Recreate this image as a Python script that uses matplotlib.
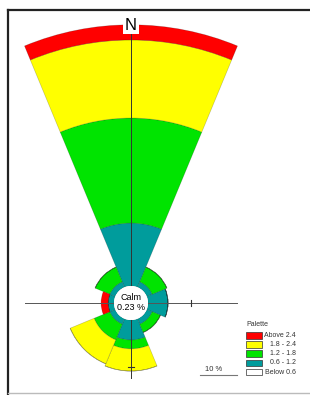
import numpy as np
import matplotlib
matplotlib.use("Agg")
import matplotlib.pyplot as plt
from matplotlib.patches import Circle, Rectangle

plt.rcParams["font.family"] = ["Liberation Sans", "DejaVu Sans"]

# wind directions (compass degrees) and frequency (%) per speed class
directions = ["N", "NE", "E", "SE", "S", "SW", "W", "NW"]
angles_deg = [0, 45, 90, 135, 180, 225, 270, 315]
below_06 = [0.0, 0.0, 0.0, 0.0, 0.0, 0.0, 0.0, 0.0]
f_06_12 = [17.0, 1.6, 5.4, 1.6, 5.4, 1.6, 1.6, 1.6]
f_12_18 = [28.4, 4.3, 0.0, 2.4, 2.4, 4.6, 0.0, 4.3]
f_18_24 = [21.1, 0.0, 0.0, 0.0, 6.0, 7.0, 0.0, 0.0]
above_24 = [4.1, 0.0, 0.0, 0.0, 0.0, 0.0, 1.9, 0.0]
calm_pct = 0.23

bins = [below_06, f_06_12, f_12_18, f_18_24, above_24]
bin_labels = ["Below 0.6", "0.6 - 1.2", "1.2 - 1.8", "1.8 - 2.4", "Above 2.4"]
bin_colors = ["#ffffff", "#009c9c", "#00e400", "#ffff00", "#ff0000"]

# layout in pixels (figure is 310 x 395)
W, H = 310, 395
cx, cy = 131, 303          # rose centre
calm_px = 17               # radius of calm circle
px_per_pct = 3.7           # radial scale
R_px = 290                 # radius of polar axes

fig = plt.figure(figsize=(W / 100, H / 100), dpi=100)

# %%
# polar axes for the rose itself
pax = fig.add_axes([(cx - R_px) / W, (H - cy - R_px) / H, 2 * R_px / W, 2 * R_px / H],
                   projection="polar")
pax.set_theta_zero_location("N")
pax.set_theta_direction(-1)
rorigin = -calm_px / px_per_pct
pax.set_rorigin(rorigin)
pax.set_rlim(0, R_px / px_per_pct + rorigin)
pax.axis("off")

theta = np.deg2rad(angles_deg)
width = 2 * np.pi / len(directions)
bottom = np.zeros(len(directions))
for vals, col in zip(bins, bin_colors):
    vals = np.array(vals)
    pax.bar(theta, vals, width=width, bottom=bottom, color=col,
            edgecolor=(0, 0, 0, 0.22), linewidth=0.5)
    bottom += vals

# %%
# overlay in pixel coordinates: frame, cross, calm, labels, legend
ax = fig.add_axes([0, 0, 1, 1])
ax.set_xlim(0, W)
ax.set_ylim(H, 0)
ax.axis("off")
ax.patch.set_alpha(0)

# frame
ax.plot([7.5, 7.5], [9.5, 394], color="#222222", lw=1.6)
ax.plot([7.5, W], [9.5, 9.5], color="#222222", lw=1.6)
ax.plot([7.5, W], [393, 393], color="#bbbbbb", lw=1.0)

# cross hair with tick
ax.plot([cx, cx], [33, 378], color="#333333", lw=0.7, zorder=1)
ax.plot([25, 237], [cy, cy], color="#555555", lw=0.7, zorder=1)
tick_r = 60
ax.plot([cx + tick_r, cx + tick_r], [cy - 3, cy + 3], color="#333333", lw=0.8, zorder=1)
ax.plot([cx - 3, cx + 3], [cy + tick_r + 4, cy + tick_r + 4], color="#333333", lw=0.8, zorder=1)

# calm circle
ax.add_patch(Circle((cx, cy), calm_px, facecolor="white", edgecolor="none", zorder=2))
ax.text(cx, cy - 6, "Calm", ha="center", va="center", fontsize=6.5, zorder=3)
ax.text(cx, cy + 5, f"{calm_pct:.2f} %", ha="center", va="center", fontsize=6.5, zorder=3)

# north label
ax.text(cx, 25, "N", ha="center", va="center", fontsize=12, zorder=4,
        bbox=dict(boxstyle="square,pad=0.1", facecolor="white", edgecolor="none"))

# scale bar
ax.plot([200, 200 + 10 * px_per_pct], [374.5, 374.5], color="#777777", lw=0.8)
ax.text(214, 373, "10 %", ha="center", va="bottom", fontsize=5.5, color="#333333")

# legend
ax.text(246, 325, "Palette", ha="left", va="center", fontsize=5, color="#333333")
for i, (lab, col) in enumerate(zip(bin_labels[::-1], bin_colors[::-1])):
    y0 = 332 + i * 9.2
    ax.add_patch(Rectangle((246, y0), 16, 6.5, facecolor=col, edgecolor="#333333", lw=0.5))
    ax.text(296, y0 + 3.3, lab, ha="right", va="center", fontsize=5, color="#333333")

fig.savefig("out.png", dpi=100)
